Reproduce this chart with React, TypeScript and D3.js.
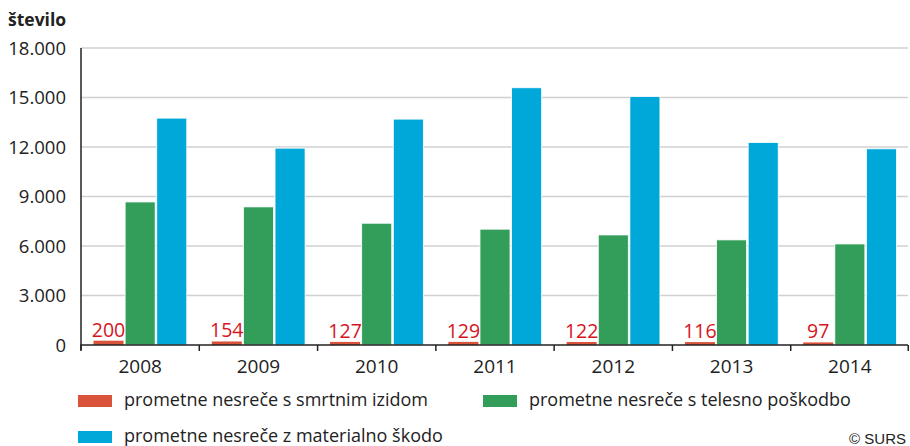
import React from "react";
import * as d3 from "d3";

const years = ["2008", "2009", "2010", "2011", "2012", "2013", "2014"];
const fatal = [200, 154, 127, 129, 122, 116, 97];
const injury = [8670, 8370, 7380, 7020, 6670, 6370, 6125];
const damage = [13750, 11930, 13690, 15590, 15060, 12270, 11890];
const yTicks = [0, 3000, 6000, 9000, 12000, 15000, 18000];
const seriesNames = [
  "prometne nesreče s smrtnim izidom",
  "prometne nesreče s telesno poškodbo",
  "prometne nesreče z materialno škodo",
];
const seriesKeys = ["fatal", "injury", "damage"];
const colors = ["#d9533a", "#339e5a", "#00a8d9"];

const W = 910;
const H = 446;
const FONT = "'Open Sans', 'DejaVu Sans', sans-serif";
const TXT = "#222";

const loc = d3.formatLocale({ decimal: ",", thousands: ".", grouping: [3], currency: ["", ""] });
const fmt = loc.format(",");

export default function App() {
  const x0 = d3.scaleBand<string>().domain(years).range([81, 909]).paddingInner(0).paddingOuter(0);
  const bw0 = x0.bandwidth();
  const x1 = d3.scaleBand<string>().domain(seriesKeys).range([12.5, bw0 - 12.5]).paddingInner(0.05);
  const y = d3.scaleLinear().domain([0, 18000]).range([345, 48]);
  const data = [fatal, injury, damage];

  return (
    <svg width={W} height={H} style={{ position: "absolute", left: 0, top: 0 }} fontFamily={FONT}>
      <rect x={0} y={0} width={W} height={H} fill="#fff" />
      <text x={8} y={26} fontSize={17.5} fontWeight="bold" fill={TXT}>število</text>
      {yTicks.map((t) => (
        <g key={t}>
          {t > 0 && (
            <line x1={81} x2={908} y1={y(t)} y2={y(t)} stroke="#d0d0d0" strokeWidth={1.5} />
          )}
          <text x={66} y={y(t)} dy="0.36em" textAnchor="end" fontSize={18.5} fill={TXT}>
            {fmt(t)}
          </text>
        </g>
      ))}
      {years.map((yr, i) => (
        <g key={yr} transform={`translate(${x0(yr)},0)`}>
          {seriesKeys.map((k, s) => {
            const v = data[s][i];
            return (
              <rect
                key={k}
                x={x1(k)}
                y={y(v) - (s === 0 ? 1 : 0)}
                width={x1.bandwidth()}
                height={y(0) - y(v) + (s === 0 ? 1 : 0)}
                fill={colors[s]}
                stroke={s === 0 ? "none" : "#fff"}
                strokeWidth={0.8}
              />
            );
          })}
          <text
            x={(x1("fatal") as number) + x1.bandwidth() / 2}
            y={y(fatal[i]) - 5}
            textAnchor="middle"
            fontSize={19.5}
            fill="#d7141e"
          >
            {fatal[i]}
          </text>
          <text x={bw0 / 2} y={373} textAnchor="middle" fontSize={19} fill={TXT}>
            {yr}
          </text>
        </g>
      ))}
      <line x1={81} x2={81} y1={48} y2={350} stroke="#222" strokeWidth={1.5} />
      <line x1={80.25} x2={908} y1={345} y2={345} stroke="#222" strokeWidth={1.5} />
      {d3.range(years.length + 1).map((i) => {
        const xx = i < years.length ? (x0(years[i]) as number) : 909 - 0.75;
        return <line key={i} x1={xx} x2={xx} y1={345} y2={351} stroke="#222" strokeWidth={1.5} />;
      })}
      {[
        { x: 78, y: 395 },
        { x: 483, y: 395 },
        { x: 78, y: 431 },
      ].map((p, s) => (
        <g key={s}>
          <rect x={p.x} y={p.y} width={34} height={12} fill={colors[s]} />
          <text x={p.x + 46} y={p.y + 11} fontSize={18} fill={TXT}>
            {seriesNames[s]}
          </text>
        </g>
      ))}
      <text x={906} y={444} textAnchor="end" fontSize={15} fontFamily="'Liberation Sans', Arial, sans-serif" fill={TXT}>
        © SURS
      </text>
    </svg>
  );
}
